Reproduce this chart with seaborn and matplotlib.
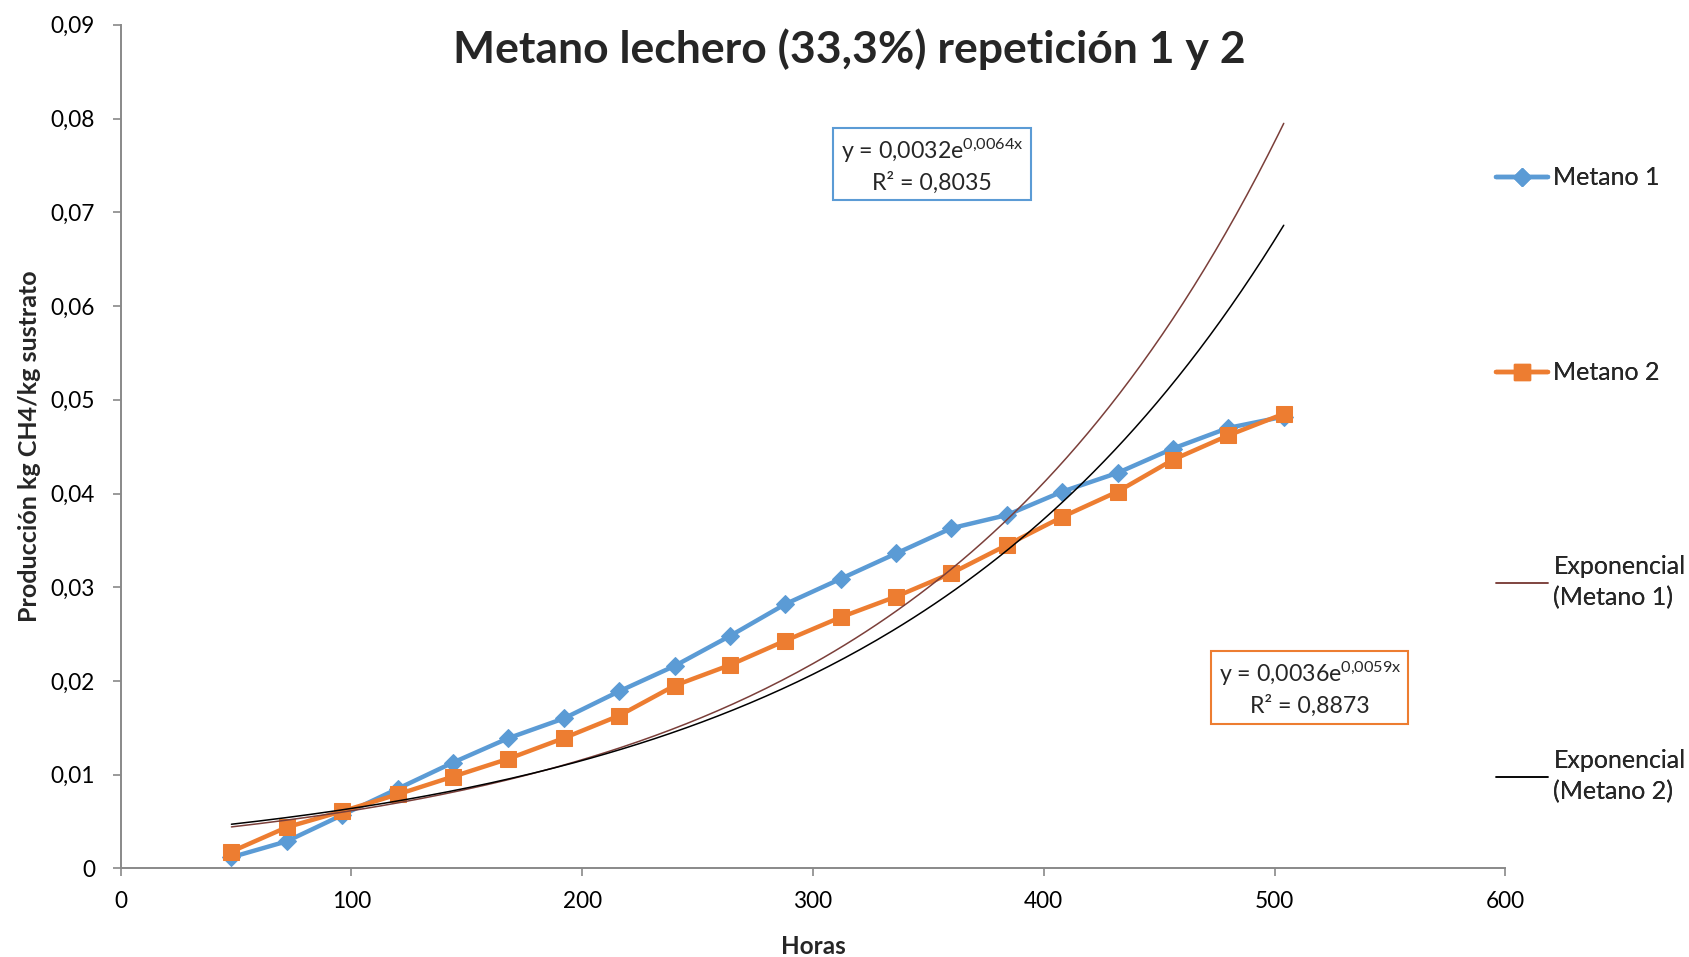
import numpy as np
import pandas as pd
import matplotlib
matplotlib.use("Agg")
import matplotlib.pyplot as plt
import seaborn as sns
from matplotlib.lines import Line2D

# ---- data ----
horas = [48, 72, 96, 120, 144, 168, 192, 216, 240, 264, 288, 312, 336, 360, 384, 408, 432, 456, 480, 504]
metano1 = [0.0012, 0.0029, 0.0057, 0.0085, 0.0113, 0.0139, 0.0160, 0.0189, 0.0216, 0.0248,
           0.0282, 0.0309, 0.0336, 0.0363, 0.0377, 0.0402, 0.0422, 0.0448, 0.0470, 0.0482]
metano2 = [0.0018, 0.0044, 0.0061, 0.0079, 0.0098, 0.0117, 0.0139, 0.0163, 0.0195, 0.0217,
           0.0243, 0.0268, 0.0290, 0.0315, 0.0345, 0.0375, 0.0402, 0.0436, 0.0462, 0.0485]
series_names = ["Metano 1", "Metano 2"]
trend_names = ["Exponencial\n(Metano 1)", "Exponencial\n(Metano 2)"]
eq1 = ["y = 0,0032e$^{\\mathrm{0{,}0064x}}$", "R² = 0,8035"]
eq2 = ["y = 0,0036e$^{\\mathrm{0{,}0059x}}$", "R² = 0,8873"]
yticks = [0, 0.01, 0.02, 0.03, 0.04, 0.05, 0.06, 0.07, 0.08, 0.09]
yticklabels = ["0", "0,01", "0,02", "0,03", "0,04", "0,05", "0,06", "0,07", "0,08", "0,09"]
xticks = [0, 100, 200, 300, 400, 500, 600]

sns.set_style("white")
FONT = "Lato"
plt.rcParams["font.family"] = [FONT, "DejaVu Sans"]
plt.rcParams["mathtext.fontset"] = "custom"
plt.rcParams["mathtext.rm"] = FONT
plt.rcParams["mathtext.it"] = FONT

BLUE = "#5B9BD5"
ORANGE = "#ED7D31"
BROWN = "#7B3F3A"
GRAY = "#898989"

fig = plt.figure(figsize=(16.9, 9.57), dpi=100)
ax = fig.add_axes([0.0714, 0.0925, 0.8193, 0.8816])

df = pd.DataFrame({
    "Horas": horas * 2,
    "valor": metano1 + metano2,
    "serie": [series_names[0]] * len(horas) + [series_names[1]] * len(horas),
})

# exponential trendlines (least squares on log, as the spreadsheet does)
xs = np.linspace(horas[0], horas[-1], 200)
trends = []
for vals, name in zip([metano1, metano2], trend_names):
    b, ln_a = np.polyfit(horas, np.log(vals), 1)
    trends.append(pd.DataFrame({"Horas": xs, "valor": np.exp(ln_a) * np.exp(b * xs), "serie": name}))

sns.lineplot(data=trends[0], x="Horas", y="valor", color=BROWN, lw=1.1, ax=ax, zorder=3)
sns.lineplot(data=trends[1], x="Horas", y="valor", color="black", lw=1.1, ax=ax, zorder=3)

sns.lineplot(data=df[df.serie == series_names[0]], x="Horas", y="valor", color=BLUE, lw=3.2,
             marker="D", markersize=9.5, markeredgecolor=BLUE, ax=ax, zorder=2)
sns.lineplot(data=df[df.serie == series_names[1]], x="Horas", y="valor", color=ORANGE, lw=3.2,
             marker="s", markersize=11, markeredgecolor=ORANGE, ax=ax, zorder=2)

ax.set_xlim(0, 600)
ax.set_ylim(0, 0.09)
ax.set_xticks(xticks)
ax.set_xticklabels([str(t) for t in xticks])
ax.set_yticks(yticks)
ax.set_yticklabels(yticklabels)
for s in ["top", "right"]:
    ax.spines[s].set_visible(False)
for s in ["left", "bottom"]:
    ax.spines[s].set_color(GRAY)
    ax.spines[s].set_linewidth(1.4)
ax.tick_params(axis="both", which="major", direction="out", length=5.5, width=1.2,
               color=GRAY, labelsize=16.3, labelcolor="black")
ax.tick_params(axis="y", pad=13)
ax.tick_params(axis="x", pad=11)
ax.tick_params(left=True, bottom=True)

ax.set_xlabel("Horas", fontsize=17.5, fontweight="bold", labelpad=16)
ax.set_ylabel("Producción kg CH4/kg sustrato", fontsize=18, fontweight="bold", labelpad=7)

fig.text(0.5024, 1 - 49 / 957, "Metano lechero (33,3%) repetición 1 y 2",
         ha="center", va="center", fontsize=32, fontweight="bold")

# equation boxes
for (cx, cy, w, h, col, lines) in [(932, 164, 198, 72, BLUE, eq1), (1310, 687, 197, 73, ORANGE, eq2)]:
    rect = plt.Rectangle(((cx - w / 2) / 1690, 1 - (cy + h / 2) / 957), w / 1690, h / 957,
                         transform=fig.transFigure, fill=False, edgecolor=col, lw=1.5)
    fig.add_artist(rect)
    fig.text(cx / 1690, 1 - (cy - 13) / 957, lines[0], ha="center", va="center", fontsize=16.7)
    fig.text(cx / 1690, 1 - (cy + 19) / 957, lines[1], ha="center", va="center", fontsize=16.7)

handles = [
    Line2D([], [], color=BLUE, lw=3.2, marker="D", markersize=9.5),
    Line2D([], [], color=ORANGE, lw=3.2, marker="s", markersize=11),
    Line2D([], [], color=BROWN, lw=1.1),
    Line2D([], [], color="black", lw=1.1),
]
labels = series_names + trend_names
centers_y = [178, 373, 582, 776]  # pixel rows of legend entries (from top)
for h, lab, cy in zip(handles, labels, centers_y):
    lg = fig.legend([h], [lab], loc="center left",
                    bbox_to_anchor=(1496 / 1690, 1 - cy / 957), frameon=False,
                    fontsize=18, handlelength=2.1, handletextpad=0.2,
                    borderaxespad=0, borderpad=0)
    for t in lg.get_texts():
        t.set_linespacing(1.45)
    fig.add_artist(lg)

fig.savefig("out.png", dpi=100)
